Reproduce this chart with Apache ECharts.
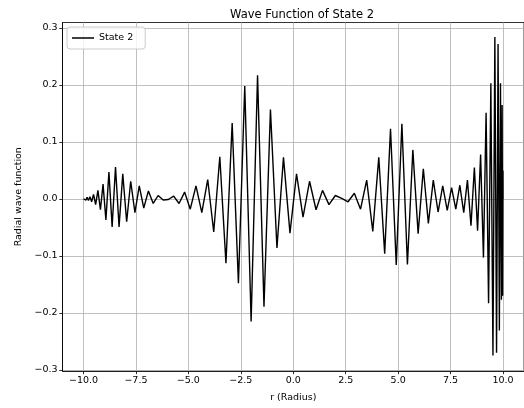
<!DOCTYPE html>
<html>
<head>
<meta charset="utf-8">
<script src="https://cdn.jsdelivr.net/npm/echarts@6/dist/echarts.min.js"></script>
<style>
html,body{margin:0;padding:0;background:#fff;}
#chart{width:524px;height:408px;}
</style>
</head>
<body>
<div id="chart"></div>
<script>
// Radius sample positions (vertices of the polyline)
var rValues = [
  -10.000, -9.995, -9.981, -9.957, -9.923, -9.879, -9.826, -9.764, -9.692, -9.611,
  -9.520, -9.420, -9.311, -9.193, -9.067, -8.931, -8.787, -8.634, -8.473, -8.304,
  -8.127, -7.941, -7.749, -7.548, -7.341, -7.126, -6.904, -6.676, -6.441, -6.201,
  -5.953, -5.701, -5.443, -5.179, -4.910, -4.637, -4.359, -4.077, -3.791, -3.501,
  -3.208, -2.912, -2.613, -2.312, -2.008, -1.702, -1.395, -1.087, -0.777, -0.466,
  -0.156, 0.156, 0.466, 0.777, 1.087, 1.395, 1.702, 2.008, 2.312, 2.613,
  2.912, 3.208, 3.501, 3.791, 4.077, 4.359, 4.637, 4.910, 5.179, 5.443,
  5.701, 5.953, 6.201, 6.441, 6.676, 6.904, 7.126, 7.341, 7.548, 7.749,
  7.941, 8.127, 8.304, 8.473, 8.634, 8.787, 8.931, 9.067, 9.193, 9.311,
  9.420, 9.520, 9.611, 9.692, 9.764, 9.826, 9.879, 9.923, 9.957, 9.981,
  9.995, 10.000
];
// State 2 radial wave function values
var state2Values = [
  0.000, 0.000, 0.001, -0.001, 0.002, -0.002, 0.003, -0.003, 0.004, -0.005,
  0.008, -0.010, 0.015, -0.019, 0.026, -0.037, 0.047, -0.049, 0.056, -0.049,
  0.044, -0.040, 0.031, -0.024, 0.023, -0.016, 0.014, -0.008, 0.006, -0.002,
  -0.001, 0.005, -0.008, 0.012, -0.018, 0.023, -0.024, 0.034, -0.058, 0.074,
  -0.113, 0.133, -0.148, 0.198, -0.215, 0.217, -0.189, 0.157, -0.086, 0.073,
  -0.060, 0.044, -0.032, 0.031, -0.019, 0.015, -0.010, 0.006, 0.001, -0.005,
  0.010, -0.018, 0.033, -0.057, 0.073, -0.096, 0.123, -0.116, 0.132, -0.115,
  0.086, -0.061, 0.053, -0.043, 0.033, -0.023, 0.023, -0.020, 0.020, -0.018,
  0.024, -0.024, 0.033, -0.047, 0.055, -0.056, 0.078, -0.103, 0.151, -0.183,
  0.203, -0.275, 0.284, -0.270, 0.272, -0.231, 0.203, -0.177, 0.165, -0.170,
  0.050, 0.000
];
var xTicks = [-10, -7.5, -5, -2.5, 0, 2.5, 5, 7.5, 10];
var yTicks = [-0.3, -0.2, -0.1, 0.0, 0.1, 0.2, 0.3];
var seriesName = 'State 2';
var titleText = 'Wave Function of State 2';
var xLabel = 'r (Radius)';
var yLabel = 'Radial wave function';

function fmt(v) {
  var s = (Math.abs(v) < 1e-9 ? 0 : v).toFixed(1);
  return s.replace('-', '\u2212');
}

var points = rValues.map(function (r, i) { return [r, state2Values[i]]; });

var FONT = 'DejaVu Sans';
var chart = echarts.init(document.getElementById('chart'), null, { renderer: 'canvas' });
chart.setOption({
  animation: false,
  backgroundColor: '#fff',
  textStyle: { fontFamily: FONT },
  title: {
    text: titleText,
    left: 297, top: 4,
    textAlign: 'center',
    textStyle: { fontFamily: FONT, fontSize: 11.5, fontWeight: 'normal', color: '#000' }
  },
  legend: {
    left: 67, top: 27,
    data: [seriesName],
    icon: 'rect',
    itemWidth: 22, itemHeight: 1.5,
    padding: [6, 12, 6, 5],
    backgroundColor: 'rgba(255,255,255,0.8)',
    borderColor: '#cccccc', borderWidth: 1, borderRadius: 3,
    textStyle: { fontFamily: FONT, fontSize: 9.5, color: '#000' }
  },
  grid: {
    left: 62.5, top: 22.5, width: 469, height: 348.5,
    show: true, borderColor: '#000', borderWidth: 0.8, backgroundColor: 'transparent'
  },
  xAxis: {
    type: 'value', min: -11, max: 11,
    name: xLabel, nameLocation: 'middle', nameGap: 22,
    nameTextStyle: { fontFamily: FONT, fontSize: 9.5, color: '#000' },
    axisLine: { show: true, onZero: false, lineStyle: { color: '#000', width: 0.8 } },
    axisTick: { show: true, length: 3.2, lineStyle: { color: '#000', width: 0.8 }, customValues: xTicks },
    axisLabel: { margin: 5, fontFamily: FONT, fontSize: 9.5, color: '#000', customValues: xTicks, formatter: fmt },
    splitLine: { show: true, lineStyle: { color: '#b0b0b0', width: 0.8 } }
  },
  yAxis: {
    type: 'value', min: -0.302, max: 0.3096,
    name: yLabel, nameLocation: 'middle', nameGap: 39, nameRotate: 90,
    nameTextStyle: { fontFamily: FONT, fontSize: 9.5, color: '#000' },
    axisLine: { show: true, onZero: false, lineStyle: { color: '#000', width: 0.8 } },
    axisTick: { show: true, length: 3.2, lineStyle: { color: '#000', width: 0.8 }, customValues: yTicks },
    axisLabel: { margin: 5, fontFamily: FONT, fontSize: 9.5, color: '#000', customValues: yTicks, formatter: fmt },
    splitLine: { show: true, lineStyle: { color: '#b0b0b0', width: 0.8 } }
  },
  series: [{
    name: seriesName,
    type: 'line',
    data: points,
    showSymbol: false,
    symbol: 'none',
    lineStyle: { color: '#000', width: 1.4 },
    itemStyle: { color: '#000' },
    clip: true
  }]
});
</script>
</body>
</html>
